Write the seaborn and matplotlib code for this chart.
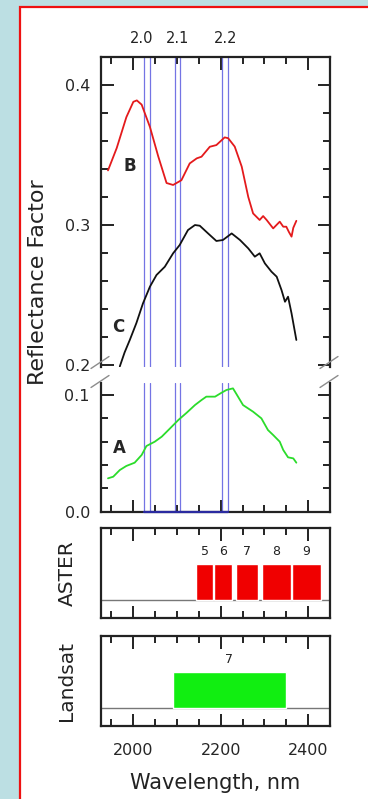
import numpy as np
import matplotlib
matplotlib.use('Agg')
import matplotlib.pyplot as plt
import seaborn as sns
from matplotlib.patches import Rectangle
from matplotlib.lines import Line2D
from matplotlib.ticker import MultipleLocator, FormatStrFormatter

sns.set_style('ticks')
plt.rcParams['font.family'] = ['DejaVu Sans']

# ============================================================================
# DATA
# ============================================================================
wl_b = [1942, 1962, 1984, 2000, 2008, 2019, 2038, 2057, 2076, 2091, 2110, 2129,
        2145, 2156, 2175, 2190, 2209, 2217, 2232, 2248, 2263, 2274, 2289, 2297,
        2305, 2320, 2335, 2343, 2350, 2356, 2362, 2366, 2373]
refl_b = [0.339, 0.355, 0.377, 0.388, 0.389, 0.386, 0.370, 0.349, 0.330, 0.3286,
          0.332, 0.344, 0.3476, 0.3488, 0.3559, 0.3571, 0.3626, 0.362, 0.356,
          0.3417, 0.320, 0.3083, 0.3036, 0.3064, 0.3036, 0.2976, 0.3024, 0.2988,
          0.2988, 0.295, 0.2917, 0.298, 0.303]

wl_c = [1969, 1980, 1992, 2007, 2022, 2038, 2053, 2072, 2091, 2106, 2125, 2141,
        2152, 2171, 2190, 2205, 2225, 2244, 2263, 2278, 2289, 2301, 2316, 2328,
        2339, 2347, 2354, 2362, 2373]
refl_c = [0.199, 0.209, 0.218, 0.230, 0.244, 0.256, 0.2643, 0.2702, 0.2798, 0.2857,
          0.2964, 0.300, 0.2995, 0.294, 0.2886, 0.2893, 0.294, 0.2893, 0.2833,
          0.2774, 0.2798, 0.2726, 0.2667, 0.2631, 0.2536, 0.2452, 0.2488, 0.2369,
          0.2179]

wl_a = [1942, 1954, 1969, 1984, 2003, 2019, 2030, 2049, 2065, 2084, 2103, 2122,
        2141, 2156, 2167, 2187, 2202, 2213, 2228, 2235, 2251, 2274, 2293, 2308,
        2320, 2335, 2343, 2354, 2366, 2373]
refl_a = [0.0286, 0.030, 0.0357, 0.0392, 0.042, 0.0486, 0.0563, 0.060, 0.0643,
          0.0714, 0.0786, 0.0848, 0.0914, 0.0957, 0.0986, 0.0986, 0.102, 0.1043,
          0.1057, 0.1014, 0.0914, 0.0857, 0.080, 0.070, 0.0657, 0.060, 0.0529,
          0.0466, 0.0457, 0.042]

blue_lines = [2025, 2037, 2095, 2106, 2204, 2216]
top_labels = ['2.0', '2.1', '2.2']
top_label_pos = [2019, 2102, 2211]

aster_bands = ['5', '6', '7', '8', '9']
aster_start = [2144, 2185, 2235, 2294, 2362]
aster_end = [2183, 2225, 2285, 2361, 2430]

landsat_bands = ['7']
landsat_start = [2090]
landsat_end = [2350]

# ============================================================================
# FIGURE
# ============================================================================
W, H = 368, 799
fig = plt.figure(figsize=(W / 100, H / 100), dpi=100, facecolor='#bcdfe3')
fig.patches.append(Rectangle((20 / W, -0.05), 1.2, 1 - 7 / H + 0.05,
                             transform=fig.transFigure, facecolor='white',
                             edgecolor='#ee1111', lw=1.6, zorder=-1))

def fig_axes(top_px, bottom_px):
    return fig.add_axes([101 / W, 1 - bottom_px / H, 229 / W, (bottom_px - top_px) / H])

ax_hi = fig_axes(57, 367)
ax_lo = fig_axes(383, 511.7)
ax_as = fig_axes(528, 618)
ax_ls = fig_axes(636, 726)

for ax in [ax_hi, ax_lo, ax_as, ax_ls]:
    ax.set_facecolor('none')
    ax.set_xlim(1926, 2450)
    for s in ax.spines.values():
        s.set_linewidth(1.6)
        s.set_color('#222222')
    ax.xaxis.set_major_locator(MultipleLocator(200))
    ax.xaxis.set_minor_locator(MultipleLocator(50))
    ax.tick_params(which='major', direction='in', length=9, width=1.4,
                   color='#222222', labelsize=11.5, pad=8)
    ax.tick_params(which='minor', direction='in', length=5, width=1.4,
                   color='#222222')
    ax.set_xlabel('')
    ax.set_ylabel('')

# ============================================================================
# SPECTRA (broken y axis)
# ============================================================================
ax_hi.set_ylim(0.1986, 0.42)
ax_lo.set_ylim(0, 0.1103)
for ax in [ax_hi, ax_lo]:
    ax.yaxis.set_major_locator(MultipleLocator(0.1))
    ax.yaxis.set_minor_locator(MultipleLocator(0.02))
    ax.yaxis.set_major_formatter(FormatStrFormatter('%.1f'))
    for x in blue_lines:
        ax.axvline(x, color='#7474e4', lw=0.9, zorder=1)

ax_hi.spines['bottom'].set_visible(False)
ax_hi.tick_params(which='both', top=True, bottom=False, labelbottom=False,
                  left=True, right=True)
ax_lo.spines['top'].set_visible(False)
ax_lo.tick_params(which='both', top=False, bottom=True, labelbottom=False,
                  left=True, right=True)

sns.lineplot(x=wl_b, y=refl_b, ax=ax_hi, color='#e41a1c', lw=1.3, zorder=3)
sns.lineplot(x=wl_c, y=refl_c, ax=ax_hi, color='#111111', lw=1.3, zorder=3)
sns.lineplot(x=wl_a, y=refl_a, ax=ax_lo, color='#2bdc2b', lw=1.3, zorder=3)
ax_lo.plot([blue_lines[0], blue_lines[-1]], [0, 0], color='#2a2aa0', lw=1.6,
           clip_on=False, zorder=4)

ax_hi.text(1992, 0.3424, 'B', ha='center', va='center', fontsize=12, fontweight='bold')
ax_hi.text(1965, 0.2274, 'C', ha='center', va='center', fontsize=12, fontweight='bold')
ax_lo.text(1969, 0.0543, 'A', ha='center', va='center', fontsize=12, fontweight='bold')

for lab, x in zip(top_labels, top_label_pos):
    ax_hi.text(x, 1.06, lab, transform=ax_hi.get_xaxis_transform(),
               ha='center', va='center', fontsize=10.5, color='#222222')

# break marks on both spines
for xc in [100, 329]:
    for yc in [362.5, 381.5]:
        fig.add_artist(Line2D([(xc - 9) / W, (xc + 9) / W],
                              [1 - (yc + 6) / H, 1 - (yc - 6) / H],
                              transform=fig.transFigure, color='#8c8c8c', lw=1))

# ============================================================================
# BAND PANELS
# ============================================================================
def band_panel(ax, starts, ends, names, color):
    ax.set_ylim(-0.5, 2.0)
    ax.set_yticks([])
    ax.axhline(0, color='#777777', lw=1, zorder=1)
    widths = [e - s for s, e in zip(starts, ends)]
    ax.bar(starts, [1] * len(starts), width=widths, bottom=0, align='edge',
           color=color, edgecolor='white', linewidth=1, zorder=2)
    for s, w, n in zip(starts, widths, names):
        ax.text(s + w / 2, 1.36, n, ha='center', va='center', fontsize=9,
                color='#222222')
    ax.tick_params(which='both', top=True, bottom=True, left=False, right=False)

band_panel(ax_as, aster_start, aster_end, aster_bands, '#f00000')
band_panel(ax_ls, landsat_start, landsat_end, landsat_bands, '#11ee11')
ax_as.tick_params(labelbottom=False)
ax_ls.tick_params(labelbottom=True, pad=12)

# ============================================================================
# LABELS
# ============================================================================
fig.text(38 / W, 1 - 282.5 / H, 'Reflectance Factor', rotation=90,
         ha='center', va='center', fontsize=16, color='#222222')
fig.text(215 / W, 1 - 783 / H, 'Wavelength, nm', ha='center', va='center',
         fontsize=15, color='#222222')
fig.text(67 / W, 1 - 573 / H, 'ASTER', rotation=90, ha='center', va='center',
         fontsize=14.5, color='#222222')
fig.text(67 / W, 1 - 681 / H, 'Landsat', rotation=90, ha='center', va='center',
         fontsize=14.5, color='#222222')

plt.savefig('out.png', dpi=100, facecolor=fig.get_facecolor())
